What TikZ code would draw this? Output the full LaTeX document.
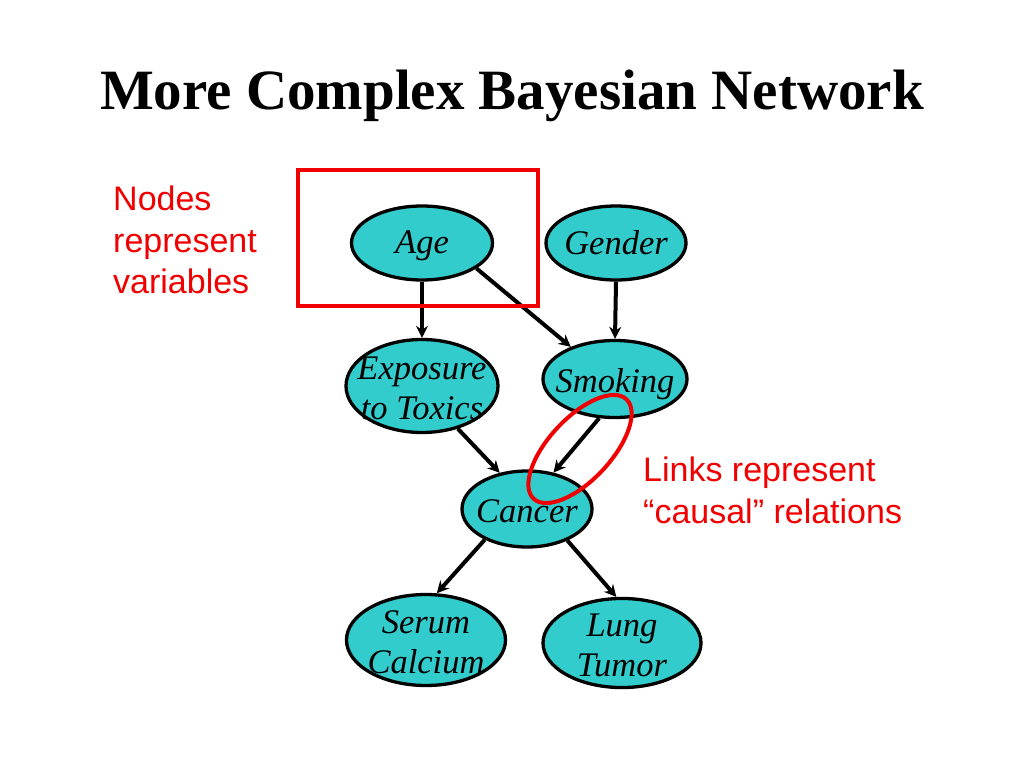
\documentclass[tikz,border=0pt]{standalone}
\usepackage{fontspec}
\setmainfont{Liberation Serif}
\newfontfamily\arialfont{Liberation Sans}
\usetikzlibrary{shapes.geometric,arrows.meta}
\definecolor{nodecyan}{RGB}{51,204,204}
\definecolor{markred}{RGB}{240,0,0}
\newcommand{\lowered}[2]{\makebox[0pt]{\raisebox{-#1}[\height][\depth]{#2}}}
\tikzset{
  bnode/.style={ellipse, draw=black, line width=3.3pt, fill=nodecyan, inner sep=0pt,
    align=center, font=\itshape\fontsize{34.5}{40}\selectfont},
  link/.style={line width=4pt, -{Stealth[length=12pt,width=12pt]}},
  redmark/.style={draw=markred, line width=4pt},
  note/.style={text=markred, font=\arialfont\fontsize{34}{41.5}\selectfont, align=left, anchor=north west, inner sep=0pt}
}
\begin{document}
\begin{tikzpicture}[x=1pt,y=-1pt]
\useasboundingbox (0,0) rectangle (1024,768);
\fill[white] (0,0) rectangle (1024,768);
\node[font=\bfseries\fontsize{57}{67}\selectfont] (title) at (512,96) {More Complex Bayesian Network};

\node[bnode, minimum width=141pt, minimum height=74pt] (age) at (422,243) {\lowered{3pt}{Age}};
\node[bnode, minimum width=140pt, minimum height=74pt] (gender) at (616,243) {\lowered{0pt}{Gender}};
\node[bnode, minimum width=152pt, minimum height=93pt] (expo) at (422,386) {\lowered{2pt}{Exposure}\\\lowered{2pt}{to Toxics}};
\node[bnode, minimum width=144pt, minimum height=77pt] (smoke) at (615,379) {\lowered{5pt}{Smoking}};
\node[bnode, minimum width=130pt, minimum height=76pt] (cancer) at (527,509) {\lowered{2pt}{Cancer}};
\node[bnode, minimum width=159pt, minimum height=91pt] (serum) at (426,640) {\lowered{2pt}{Serum}\\\lowered{2pt}{Calcium}};
\node[bnode, minimum width=158pt, minimum height=80pt] (lung) at (622,643) {\lowered{2pt}{Lung}\\\lowered{2pt}{Tumor}};

\draw[link] (age.south) -- (expo.north);
\draw[link] (age.-25) -- (smoke.144);
\draw[link] (gender.south) -- (smoke.north);
\draw[link] (expo.-50) -- (cancer.127);
\draw[link] (smoke.-112) -- (cancer.54);
\draw[link] (cancer.-144) -- (serum.77);
\draw[link] (cancer.-38) -- (lung.97);

\draw[redmark] (298,170) rectangle (538,306);
\node[redmark, ellipse, minimum width=136pt, minimum height=62pt, rotate=47, inner sep=0pt] (ring) at (580,449) {};

\node[note] (nodesnote) at (113,186) {Nodes\\represent\\variables};
\node[note] (linksnote) at (643,457) {Links represent\\“causal” relations};
\end{tikzpicture}
\end{document}
